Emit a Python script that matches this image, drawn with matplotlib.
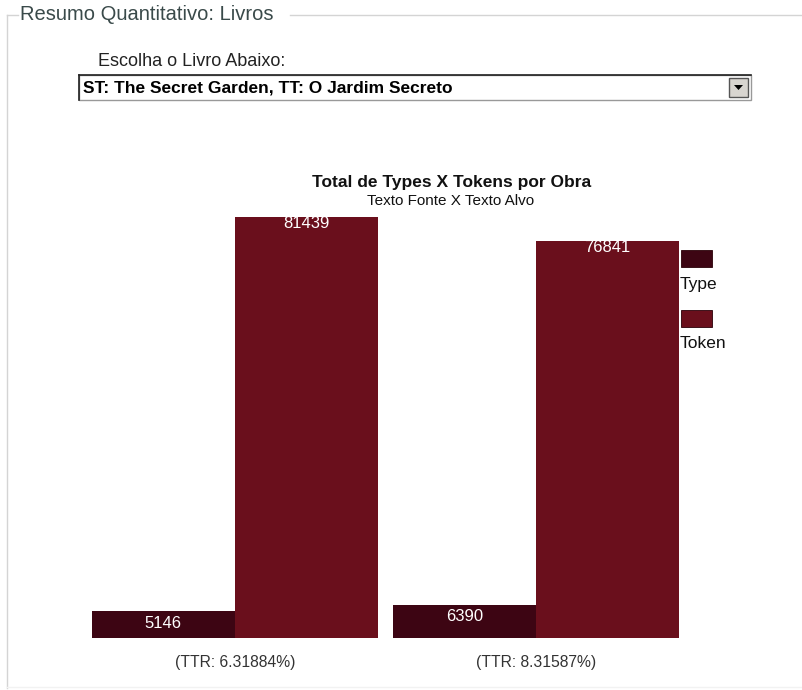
import matplotlib.pyplot as plt
from matplotlib.patches import Rectangle, Polygon

plt.rcParams['font.family'] = ['Liberation Sans', 'DejaVu Sans']

# dados do gráfico
obras = ['(TTR: 6.31884%)', '(TTR: 8.31587%)']
types = [5146, 6390]
tokens = [81439, 76841]
series = ['Type', 'Token']
cores = ['#3d0513', '#6a0f1c']

W, H = 803, 690
fig = plt.figure(figsize=(W / 100, H / 100), dpi=100)

# camada de fundo em pixels (moldura, combo)
bg = fig.add_axes([0, 0, 1, 1])
bg.set_xlim(0, W)
bg.set_ylim(H, 0)
bg.axis('off')

# fieldset
lc = '#d4d4d4'
bg.plot([7, 18], [15, 15], color=lc, lw=1)
bg.plot([290, W], [15, 15], color=lc, lw=1)
bg.plot([7, 7], [15, 688], color=lc, lw=1)
bg.plot([7, W], [687, 687], color='#f2f2f2', lw=1)
bg.text(20, 15, 'Resumo Quantitativo: Livros', fontsize=14.5, color='#3a4a4a',
        va='center', ha='left')

bg.text(98, 61, 'Escolha o Livro Abaixo:', fontsize=13, color='#222222',
        va='center', ha='left')

# combo box
bg.add_patch(Rectangle((79, 75), 672, 25, facecolor='white', edgecolor='#999999', lw=1))
bg.plot([79, 751], [75, 75], color='#222222', lw=1.2)
bg.plot([79, 79], [75, 100], color='#222222', lw=1.2)
bg.text(83, 88, 'ST: The Secret Garden, TT: O Jardim Secreto', fontsize=12.5,
        fontweight='bold', color='black', va='center', ha='left')
bg.add_patch(Rectangle((729, 78), 19, 19, facecolor='#d8d5d0', edgecolor='#555555', lw=1))
bg.add_patch(Polygon([[734, 85], [743, 85], [738.5, 90]], closed=True, facecolor='black'))

# titulos
bg.text(452, 183, 'Total de Types X Tokens por Obra', fontsize=12.5, fontweight='bold',
        color='#111111', ha='center', va='center')
bg.text(451, 201, 'Texto Fonte X Texto Alvo', fontsize=11, color='#111111',
        ha='center', va='center')

# legenda
for i, (nome, cor) in enumerate(zip(series, cores)):
    y0 = 250 + i * 60
    bg.add_patch(Rectangle((681, y0), 31, 17, facecolor=cor, edgecolor='#2a0008', lw=0.6))
    bg.text(680, y0 + 34, nome, fontsize=12.5, color='#111111', ha='left', va='center')

# grafico de barras
ax = fig.add_axes([92 / W, (H - 638) / H, (679 - 92) / W, (638 - 217) / H])
gap = 16 / 143
xs_type = [i * (2 + gap) + 0.5 for i in range(len(obras))]
xs_tok = [x + 1 for x in xs_type]
ax.bar(xs_type, types, width=1, color=cores[0], edgecolor='none')
ax.bar(xs_tok, tokens, width=1, color=cores[1], edgecolor='none')
ax.set_xlim(0, len(obras) * 2 + (len(obras) - 1) * gap)
ax.set_ylim(0, max(tokens))
ax.axis('off')

for x, v in zip(xs_type, types):
    ax.annotate(str(v), (x, v), xytext=(0, -8.5), textcoords='offset points',
                ha='center', va='center', color='white', fontsize=12)
for x, v in zip(xs_tok, tokens):
    ax.annotate(str(v), (x, v), xytext=(0, -5), textcoords='offset points',
                ha='center', va='center', color='white', fontsize=12)

for x, nome in zip(xs_type, obras):
    ax.annotate(nome, (x + 0.5, 0), xytext=(0, -18), textcoords='offset points',
                ha='center', va='center', color='#333333', fontsize=11.3,
                annotation_clip=False)

fig.savefig('out.png', dpi=100)
